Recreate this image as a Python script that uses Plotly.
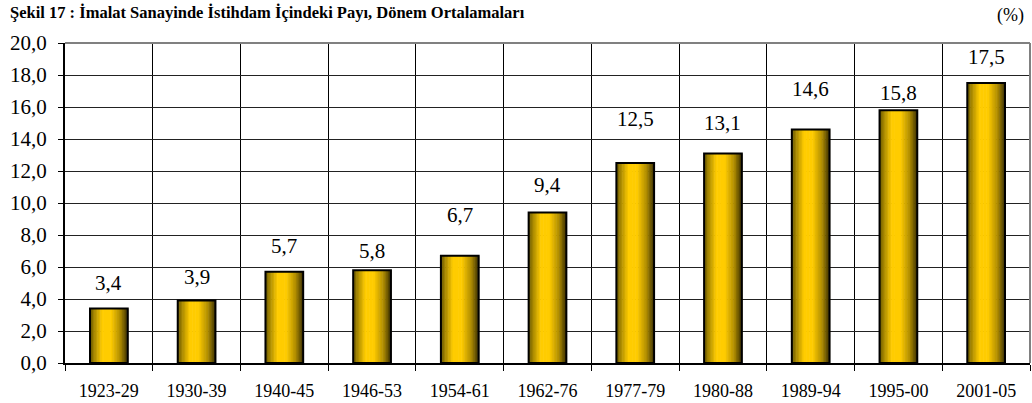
import plotly.graph_objects as go

categories = ["1923-29", "1930-39", "1940-45", "1946-53", "1954-61", "1962-76",
              "1977-79", "1980-88", "1989-94", "1995-00", "2001-05"]
values = [3.4, 3.9, 5.7, 5.8, 6.7, 9.4, 12.5, 13.1, 14.6, 15.8, 17.5]
y_ticks = [0, 2, 4, 6, 8, 10, 12, 14, 16, 18, 20]

FONT = "Liberation Serif"
BAR_W = 0.43
N_STRIPS = 26
# pixel offsets of the (manually placed) value labels above each bar top
label_yshift = [26, 24, 26, 19, 41, 28, 44, 30, 40, 17, 26]

stops = [(0.0, (95, 80, 0)), (0.1, (160, 130, 0)), (0.32, (255, 204, 0)),
         (0.55, (255, 204, 0)), (0.8, (175, 140, 0)), (1.0, (55, 45, 0))]


def grad(t):
    for (p0, c0), (p1, c1) in zip(stops[:-1], stops[1:]):
        if p0 <= t <= p1:
            f = (t - p0) / (p1 - p0)
            return "rgb(%d,%d,%d)" % tuple(round(a + (b - a) * f) for a, b in zip(c0, c1))
    return "rgb(%d,%d,%d)" % stops[-1][1]


fig = go.Figure()
sw = BAR_W / N_STRIPS
for i in range(N_STRIPS):
    t = (i + 0.5) / N_STRIPS
    fig.add_trace(go.Bar(
        x=categories, y=values, width=sw * 1.4, offset=-BAR_W / 2 + i * sw,
        marker=dict(color=grad(t), line=dict(width=0)),
        hoverinfo="skip", showlegend=False))

fig.add_trace(go.Bar(
    x=categories, y=values, width=BAR_W, offset=-BAR_W / 2,
    marker=dict(color="rgba(0,0,0,0)", line=dict(color="black", width=2)),
    hoverinfo="skip", showlegend=False))

annotations = [dict(x=c, y=v, xref="x", yref="y", text=f"{v:.1f}".replace(".", ","),
                    showarrow=False, yanchor="middle", yshift=s,
                    font=dict(family=FONT, size=21, color="black"))
               for c, v, s in zip(categories, values, label_yshift)]

annotations.append(dict(x=0.0, y=1.0, xref="paper", yref="paper", xanchor="left", yanchor="middle",
                        yshift=31, xshift=-57,
                        text="<b>Şekil 17 : İmalat Sanayinde İstihdam İçindeki Payı, Dönem Ortalamaları</b>",
                        showarrow=False, font=dict(family=FONT, size=16.5, color="black")))
annotations.append(dict(x=1.0, y=1.0, xref="paper", yref="paper", xanchor="right", yanchor="middle",
                        yshift=28, xshift=-4,
                        text="(%)", showarrow=False, font=dict(family=FONT, size=18, color="black")))

fig.update_layout(
    width=1032, height=403,
    margin=dict(l=65, r=2, t=43, b=40),
    barmode="overlay",
    paper_bgcolor="white", plot_bgcolor="white",
    separators=",.",
    annotations=annotations,
    shapes=[
        dict(type="line", xref="paper", yref="paper", x0=0, x1=1, y0=1, y1=1,
             line=dict(color="#808080", width=2), layer="above"),
        dict(type="line", xref="paper", yref="paper", x0=1, x1=1, y0=0, y1=1,
             line=dict(color="#808080", width=2), layer="above"),
    ],
    xaxis=dict(type="category", tickson="boundaries", ticks="outside", ticklen=6,
               tickcolor="black", showgrid=True, gridcolor="black", gridwidth=1,
               showline=True, linecolor="black", linewidth=2, ticklabelstandoff=10,
               tickfont=dict(family=FONT, size=18, color="black"), range=[-0.5, 10.5]),
    yaxis=dict(range=[0, 20], tickvals=y_ticks, tickformat=".1f", ticks="outside", ticklen=5,
               tickcolor="black", showgrid=True, gridcolor="#222222", gridwidth=1,
               showline=True, linecolor="black", linewidth=2, zeroline=False,
               ticklabelstandoff=7,
               tickfont=dict(family=FONT, size=21, color="black")),
)

fig.write_html("out.html", config={"displayModeBar": False},
               post_script="document.body.style.margin='0';document.body.style.overflow='hidden';")
